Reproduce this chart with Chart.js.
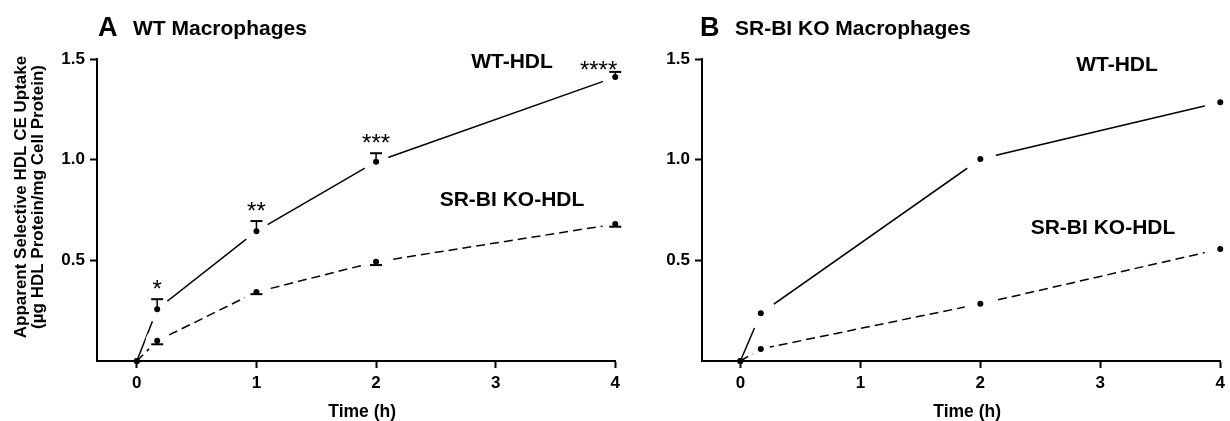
<!DOCTYPE html>
<html>
<head>
<meta charset="utf-8">
<script src="https://cdn.jsdelivr.net/npm/chart.js@4/dist/chart.umd.min.js"></script>
<style>
  html, body { margin:0; padding:0; background:#fff; width:1230px; height:421px; overflow:hidden; }
  canvas { position:absolute; top:0; }
  #cA { left:0; }
  #cB { left:620px; }
</style>
</head>
<body>
<canvas id="cA" width="625" height="421"></canvas>
<canvas id="cB" width="610" height="421"></canvas>
<script>
// ---------- DATA ----------
const timesA = [0, 0.17, 1, 2, 4];
const wtHdlA = [0, 0.257, 0.645, 0.99, 1.41];
const wtHdlErrA = [0, 0.05, 0.05, 0.042, 0.026];     // drawn upward
const koHdlA = [0, 0.10, 0.343, 0.4925, 0.68];
const koHdlErrA = [0, 0.017, 0.011, 0.016, 0.013];   // drawn downward
const sigLabelsA = ['', '*', '**', '***', '****'];

const timesB = [0, 0.17, 2, 4];
const wtHdlB = [0, 0.237, 1.003, 1.285];
const koHdlB = [0, 0.06, 0.284, 0.556];

const xTickValues = [0, 1, 2, 3, 4];
const yTickValues = [0.5, 1.0, 1.5];

const seriesNames = ['WT-HDL', 'SR-BI KO-HDL'];
const panelTitles = [['A', 'WT Macrophages'], ['B', 'SR-BI KO Macrophages']];
const yTitleLines = ['Apparent Selective HDL CE Uptake', '(\u00B5g HDL Protein/mg Cell Protein)'];
const xTitle = 'Time (h)';

// ---------- HELPERS ----------
const SANS = '"Liberation Sans", Arial, Helvetica, sans-serif';
const NARROW = '"Liberation Sans Narrow", "Arial Narrow", "Liberation Sans", Arial, sans-serif';

function toXY(xs, ys) { return xs.map((x, i) => ({ x: x, y: ys[i] })); }

// white gaps around data points, error bars
const gapPlugin = {
  id: 'gaps',
  beforeDraw(chart) { chart.$masked = false; },
  beforeDatasetDraw(chart, args) {
    const ds = chart.data.datasets[args.index];
    if (ds.role !== 'points' || chart.$masked) return;
    chart.$masked = true;
    const ctx = chart.ctx, ca = chart.chartArea;
    const R = chart.options.plugins.gaps.radius;
    const ys = chart.scales.y;
    ctx.save();
    ctx.beginPath();
    ctx.rect(ca.left + 2, ca.top - 20, ca.right - ca.left + 20, ca.bottom - ca.top + 20 - 2);
    ctx.clip();
    ctx.fillStyle = '#fff';
    chart.data.datasets.forEach((d, i) => {
      if (d.role !== 'points') return;
      const els = chart.getDatasetMeta(i).data;
      els.forEach((el, j) => {
        if (d.data[j].x === 0 && d.data[j].y === 0) return;
        let dmin = Infinity;
        [j - 1, j + 1].forEach(k => {
          if (k >= 0 && k < els.length) {
            const dd = Math.hypot(els[k].x - el.x, els[k].y - el.y);
            if (dd < dmin) dmin = dd;
          }
        });
        const r = Math.min(R, 0.4 * dmin);
        ctx.beginPath();
        ctx.arc(el.x, el.y, r, 0, Math.PI * 2);
        ctx.fill();
      });
    });
    ctx.restore();
    // error bars
    ctx.save();
    ctx.strokeStyle = '#000';
    chart.data.datasets.forEach((d, i) => {
      if (d.role !== 'points' || !d.err) return;
      const els = chart.getDatasetMeta(i).data;
      els.forEach((el, j) => {
        const e = d.err[j];
        if (!e) return;
        const yEnd = ys.getPixelForValue(d.data[j].y + d.errDir * e);
        ctx.lineWidth = 1.5;
        ctx.beginPath(); ctx.moveTo(el.x, el.y); ctx.lineTo(el.x, yEnd); ctx.stroke();
        ctx.lineWidth = 2;
        ctx.beginPath(); ctx.moveTo(el.x - 6, yEnd); ctx.lineTo(el.x + 6, yEnd); ctx.stroke();
      });
    });
    ctx.restore();
  }
};

// text annotations
const textPlugin = {
  id: 'texts',
  afterDraw(chart) {
    const o = chart.options.plugins.texts;
    const ctx = chart.ctx, ca = chart.chartArea;
    ctx.save();
    ctx.fillStyle = '#000';
    // panel title
    ctx.textBaseline = 'alphabetic';
    ctx.textAlign = 'left';
    ctx.font = 'bold 27px ' + SANS;
    ctx.fillText(o.title[0], o.titleX, 36);
    ctx.font = 'bold 21px ' + SANS;
    ctx.fillText(o.title[1], o.titleX + 35, 35);
    // series labels
    ctx.textAlign = 'center';
    ctx.textBaseline = 'middle';
    ctx.font = 'bold 21px ' + SANS;
    o.labels.forEach(l => ctx.fillText(l.text, l.x, l.y));
    // x title
    ctx.font = 'bold 17.5px ' + SANS;
    ctx.textBaseline = 'alphabetic';
    ctx.fillText(xTitle, (ca.left + ca.right) / 2 + 6, 417);
    // y title
    if (o.yTitle) {
      const cy = 197;
      ctx.font = 'bold 17px ' + SANS;
      ctx.save(); ctx.translate(26, cy); ctx.rotate(-Math.PI / 2); ctx.fillText(yTitleLines[0], 0, 0); ctx.restore();
      ctx.save(); ctx.translate(43, cy); ctx.rotate(-Math.PI / 2); ctx.fillText(yTitleLines[1], 0, 0); ctx.restore();
    }
    // significance stars
    if (o.stars) {
      const d = chart.data.datasets[0];
      const els = chart.getDatasetMeta(0).data;
      ctx.font = '24px ' + SANS;
      ctx.textBaseline = 'alphabetic';
      els.forEach((el, j) => {
        const s = o.stars[j];
        if (!s) return;
        const capY = chart.scales.y.getPixelForValue(d.data[j].y + d.err[j]);
        if (el.x + ctx.measureText(s).width / 2 > ca.right) {
          ctx.textAlign = 'right';
          ctx.fillText(s, el.x + 2, capY - 8 + 14);
        } else {
          ctx.textAlign = 'center';
          ctx.fillText(s, el.x, capY - 16 + 14);
        }
      });
    }
    ctx.restore();
  }
};

function makeChart(id, times, wt, ko, opts) {
  const lineW = 1.5;
  const datasets = [
    { role: 'points', label: seriesNames[0], data: toXY(times, wt), showLine: false,
      pointRadius: 3, pointBackgroundColor: '#000', pointBorderWidth: 0, clip: false, order: 1,
      err: opts.wtErr, errDir: 1 },
    { role: 'points', label: seriesNames[1], data: toXY(times, ko), showLine: false,
      pointRadius: 3, pointBackgroundColor: '#000', pointBorderWidth: 0, clip: false, order: 1,
      err: opts.koErr, errDir: -1 },
    { role: 'line', label: seriesNames[0] + ' line', data: toXY(times, wt), showLine: true,
      borderColor: '#000', borderWidth: lineW, pointRadius: 0, fill: false, tension: 0, clip: false, order: 2 },
    { role: 'line', label: seriesNames[1] + ' line', data: toXY(times, ko), showLine: true,
      borderColor: '#000', borderWidth: lineW, borderDash: [9, 5], pointRadius: 0, fill: false, tension: 0, clip: false, order: 2 }
  ];
  return new Chart(document.getElementById(id), {
    type: 'line',
    data: { datasets },
    plugins: [gapPlugin, textPlugin],
    options: {
      responsive: false,
      animation: false,
      devicePixelRatio: 1,
      layout: { padding: { left: 0, top: 59, right: opts.padRight, bottom: 0 } },
      plugins: {
        legend: { display: false },
        tooltip: { enabled: false },
        gaps: { radius: opts.gap },
        texts: { title: opts.title, titleX: opts.titleX, labels: opts.labels, yTitle: opts.yTitle, stars: opts.stars }
      },
      scales: {
        x: {
          type: 'linear', min: opts.xMin, max: 4,
          afterFit: s => { s.height = 60; },
          afterBuildTicks: s => { s.ticks = xTickValues.map(v => ({ value: v })); },
          border: { display: true, color: '#000', width: 2 },
          grid: { display: true, drawOnChartArea: false, drawTicks: true, tickLength: 7, tickWidth: 2, tickColor: '#000' },
          ticks: { color: '#000', padding: 5, font: { family: NARROW, size: 17, weight: 'bold' },
                   callback: v => String(v), maxRotation: 0 }
        },
        y: {
          type: 'linear', min: 0, max: 1.5,
          afterFit: s => { s.width = opts.yWidth; },
          afterBuildTicks: s => { s.ticks = yTickValues.map(v => ({ value: v })); },
          border: { display: true, color: '#000', width: 2 },
          grid: { display: true, drawOnChartArea: false, drawTicks: true, tickLength: 7, tickWidth: 2, tickColor: '#000' },
          ticks: { color: '#000', padding: 5, font: { family: NARROW, size: 17, weight: 'bold' },
                   callback: v => Number(v).toFixed(1) }
        }
      }
    }
  });
}

makeChart('cA', timesA, wtHdlA, koHdlA, {
  xMin: -0.333, yWidth: 97, padRight: 8, gap: 13,
  wtErr: wtHdlErrA, koErr: koHdlErrA,
  title: panelTitles[0], titleX: 98, yTitle: true, stars: sigLabelsA,
  labels: [{ text: seriesNames[0], x: 512, y: 62 }, { text: seriesNames[1], x: 512, y: 200 }]
});
makeChart('cB', timesB, wtHdlB, koHdlB, {
  xMin: -0.32, yWidth: 82, padRight: 9, gap: 16,
  wtErr: null, koErr: null,
  title: panelTitles[1], titleX: 80, yTitle: false, stars: null,
  labels: [{ text: seriesNames[0], x: 497, y: 65 }, { text: seriesNames[1], x: 483, y: 228 }]
});
</script>
</body>
</html>
